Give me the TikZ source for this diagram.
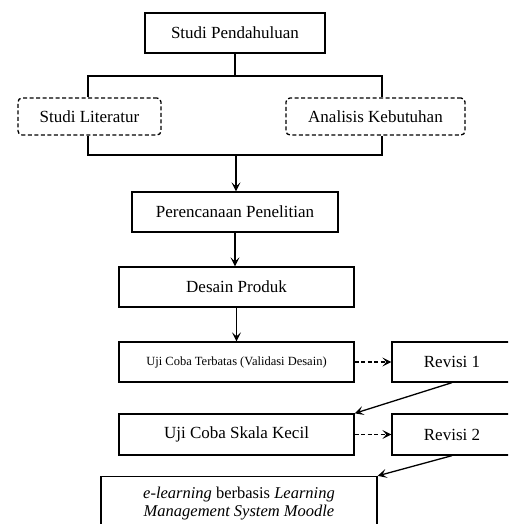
\documentclass[tikz,border=0pt]{standalone}
\usepackage{fontspec}
\setmainfont{Liberation Serif}
\usetikzlibrary{arrows.meta}
\tikzset{
	box/.style={draw, line width=1.3pt, minimum height=40pt, inner sep=2pt, font=\fontsize{17}{19}\selectfont},
	dbox/.style={box, dash pattern=on 4pt off 2.5pt, rounded corners=4pt, minimum height=37pt},
	arr/.style={line width=1.3pt, -{Stealth[length=9pt,width=9pt,inset=4pt]}},
	darr/.style={arr, dash pattern=on 4pt off 2.5pt}
}
\begin{document}
\begin{tikzpicture}[x=1pt,y=-1pt]
	\useasboundingbox (0,0) rectangle (508,524);
	\clip (0,0) rectangle (508,524);
	\node[box, minimum width=180pt] (pend) at (235,33) {Studi Pendahuluan};
	\node[dbox, minimum width=143pt] (lit) at (89.5,116.5) {Studi Literatur};
	\node[dbox, minimum width=179pt] (anal) at (375.5,116.5) {Analisis Kebutuhan};
	\node[box, minimum width=206pt] (renc) at (235,212) {Perencanaan Penelitian};
	\node[box, minimum width=235pt] (desain) at (236.5,287) {Desain Produk};
	\node[box, minimum width=235pt, font=\fontsize{12.5}{14}\selectfont] (terbatas) at (236.5,362) {Uji Coba Terbatas (Validasi Desain)};
	\node[box, minimum width=120pt] (rev1) at (452,362) {Revisi 1};
	\node[box, minimum width=235pt, minimum height=41pt] (kecil) at (236.5,434.5) {Uji Coba Skala Kecil};
	\node[box, minimum width=120pt, minimum height=41pt] (rev2) at (452,434.5) {Revisi 2};
	\node[box, minimum width=276pt, minimum height=54pt, align=center, font=\fontsize{16.5}{18}\selectfont] (elearn) at (239,503.5)
		{\textit{e-learning} berbasis \textit{Learning}\\ \textit{Management System Moodle}};
	% cabang atas dan bawah
	\coordinate (tl) at (88,76);
	\coordinate (tr) at (382,76);
	\coordinate (bl) at (88,155);
	\coordinate (br) at (382,155);
	\coordinate (gab) at (236,155);
	\draw[line width=1.3pt] (pend.south) -- (pend.south |- tl);
	\draw[line width=1.3pt] (tl |- lit.north) -- (tl) -- (tr) -- (tr |- anal.north);
	\draw[line width=1.3pt] (bl |- lit.south) -- (bl) -- (br) -- (br |- anal.south);
	\draw[arr] (gab) -- (gab |- renc.north);
	\draw[arr] (renc.south) -- (renc.south |- desain.north);
	\draw[arr] (desain.south) -- (terbatas.north);
	\draw[darr] (terbatas.east) -- (rev1.west);
	\draw[darr] (kecil.east) -- (rev2.west);
	\draw[arr] (rev1.south) -- (kecil.north east);
	\draw[arr] (rev2.south) -- (elearn.north east);
\end{tikzpicture}
\end{document}
